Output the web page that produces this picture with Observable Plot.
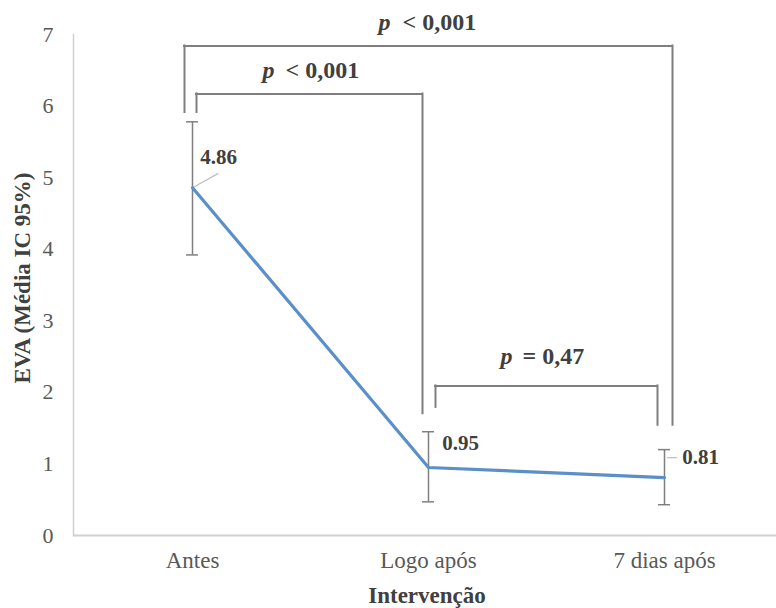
<!DOCTYPE html>
<html>
<head>
<meta charset="utf-8">
<script src="https://cdn.jsdelivr.net/npm/d3@7"></script>
<script src="https://cdn.jsdelivr.net/npm/@observablehq/plot@0.6"></script>
<style>
  html, body { margin: 0; padding: 0; background: #fff; }
  #chart svg { display: block; }
  #chart svg, #chart svg text { font-family: "Liberation Serif", "Times New Roman", serif !important; }
</style>
</head>
<body>
<div id="chart"></div>
<script>
// ---- data ----
const categories = ["Antes", "Logo após", "7 dias após"];
const means = [4.86, 0.95, 0.81];
const lower = [3.92, 0.47, 0.43];
const upper = [5.78, 1.45, 1.20];
const valueLabels = ["4.86", "0.95", "0.81"];
const yTicks = [0, 1, 2, 3, 4, 5, 6, 7];
const yTitle = "EVA (Média IC 95%)";
const xTitle = "Intervenção";

// significance brackets (category indices and y values)
const bracketFrom = [0, 0, 1];
const bracketTo = [2, 1, 2];
const bracketTop = [6.84, 6.17, 2.09];
const bracketLeftEnd = [5.91, 5.91, 1.79];
const bracketRightEnd = [1.54, 1.70, 1.54];
const bracketRelation = ["< 0,001", "< 0,001", "= 0,47"];
const bracketLabelY = [7.17, 6.5, 2.51];

// ---- table built from arrays ----
const pts = categories.map((c, i) => ({i, c, mean: means[i], lo: lower[i], hi: upper[i], label: valueLabels[i]}));
const brackets = bracketFrom.map((f, k) => ({
  from: f, to: bracketTo[k], top: bracketTop[k], le: bracketLeftEnd[k], re: bracketRightEnd[k],
  rel: bracketRelation[k], ly: bracketLabelY[k], mid: (f + bracketTo[k]) / 2
}));

// styling offsets (pixels)
const legOff = [[-8, 8], [4, -6], [7, -7]];
const pOff = [[-38, -26], [-36, -25], [-34, -24]];
const labelOff = [[26, -30], [32, -24], [36, -20]];

const font = "'Liberation Serif', 'Times New Roman', serif";
const gray = "#7f7f7f";
const textDark = "#404040";

const marks = [];

// axes lines
marks.push(Plot.frame({anchor: "left", stroke: "#d0d0d0", strokeWidth: 1.5}));
marks.push(Plot.ruleY([0], {stroke: "#d0d0d0", strokeWidth: 2}));

marks.push(Plot.axisY({ticks: yTicks, tickSize: 0, tickPadding: 20, fontSize: 22, fill: "#595959", label: null, tickFormat: d => String(d)}));
marks.push(Plot.axisX({ticks: [0, 1, 2], tickSize: 0, tickPadding: 16, fontSize: 23, fill: "#595959", label: null, tickFormat: i => categories[i]}));

// brackets
brackets.forEach((b, k) => {
  const [lo, ro] = legOff[k];
  marks.push(Plot.ruleX([b], {x: "from", y1: "le", y2: "top", dx: lo, stroke: gray, strokeWidth: 2, strokeLinecap: "square"}));
  marks.push(Plot.ruleX([b], {x: "to", y1: "re", y2: "top", dx: ro, stroke: gray, strokeWidth: 2, strokeLinecap: "square"}));
  marks.push(Plot.ruleY([b], {y: "top", x1: "from", x2: "to", insetLeft: lo, insetRight: -ro, stroke: gray, strokeWidth: 2, strokeLinecap: "square"}));
  const [pe, rs] = pOff[k];
  marks.push(Plot.text([b], {x: "mid", y: "ly", text: () => "p", dx: pe, textAnchor: "end", fontStyle: "italic", fontWeight: "bold", fontSize: 24, fill: textDark, fontFamily: font}));
  marks.push(Plot.text([b], {x: "mid", y: "ly", text: "rel", dx: rs, textAnchor: "start", fontWeight: "bold", fontSize: 24, fill: textDark, fontFamily: font}));
});

// error bars
marks.push(Plot.ruleX(pts, {x: "i", y1: "lo", y2: "hi", stroke: gray, strokeWidth: 1.5}));
marks.push(Plot.ruleY(pts, {x1: "i", x2: "i", y: "lo", insetLeft: -6, insetRight: -6, stroke: gray, strokeWidth: 1.5}));
marks.push(Plot.ruleY(pts, {x1: "i", x2: "i", y: "hi", insetLeft: -6, insetRight: -6, stroke: gray, strokeWidth: 1.5}));

// leader lines
const leaderShape = {draw(context, l) { context.moveTo(0, 0); context.lineTo(0, -l); }};
marks.push(Plot.vector([pts[0]], {x: "i", y: "mean", length: 29, rotate: 61, anchor: "start", shape: leaderShape, stroke: "#bfbfbf", strokeWidth: 1.2}));
marks.push(Plot.vector([pts[2]], {x: "i", y: "mean", dx: 3, dy: -20, length: 9, rotate: 90, anchor: "start", shape: leaderShape, stroke: "#bfbfbf", strokeWidth: 1.2}));

// mean line
marks.push(Plot.line(pts, {x: "i", y: "mean", stroke: "#5b8fc9", strokeWidth: 3.2}));

// value labels
pts.forEach((p, k) => {
  marks.push(Plot.text([p], {x: "i", y: "mean", text: "label", dx: labelOff[k][0], dy: labelOff[k][1], fontWeight: "bold", fontSize: 21, fill: textDark, fontFamily: font}));
});

// titles
marks.push(Plot.text([yTitle], {frameAnchor: "left", textAnchor: "middle", lineAnchor: "middle", dx: -51, dy: -7, rotate: -90, text: d => d, fontWeight: "bold", fontSize: 23, fill: textDark, fontFamily: font}));
marks.push(Plot.text([xTitle], {frameAnchor: "bottom", textAnchor: "middle", lineAnchor: "middle", dy: 60, dx: 2, text: d => d, fontWeight: "bold", fontSize: 23, fill: textDark, fontFamily: font}));

const chart = Plot.plot({
  width: 776,
  height: 608,
  marginLeft: 73,
  marginRight: 0,
  marginTop: 34,
  marginBottom: 73,
  style: {fontFamily: font, background: "#fff"},
  x: {type: "linear", domain: [0, 2], range: [192, 664]},
  y: {domain: [0, 7]},
  marks
});
document.getElementById("chart").appendChild(chart);
</script>
</body>
</html>
